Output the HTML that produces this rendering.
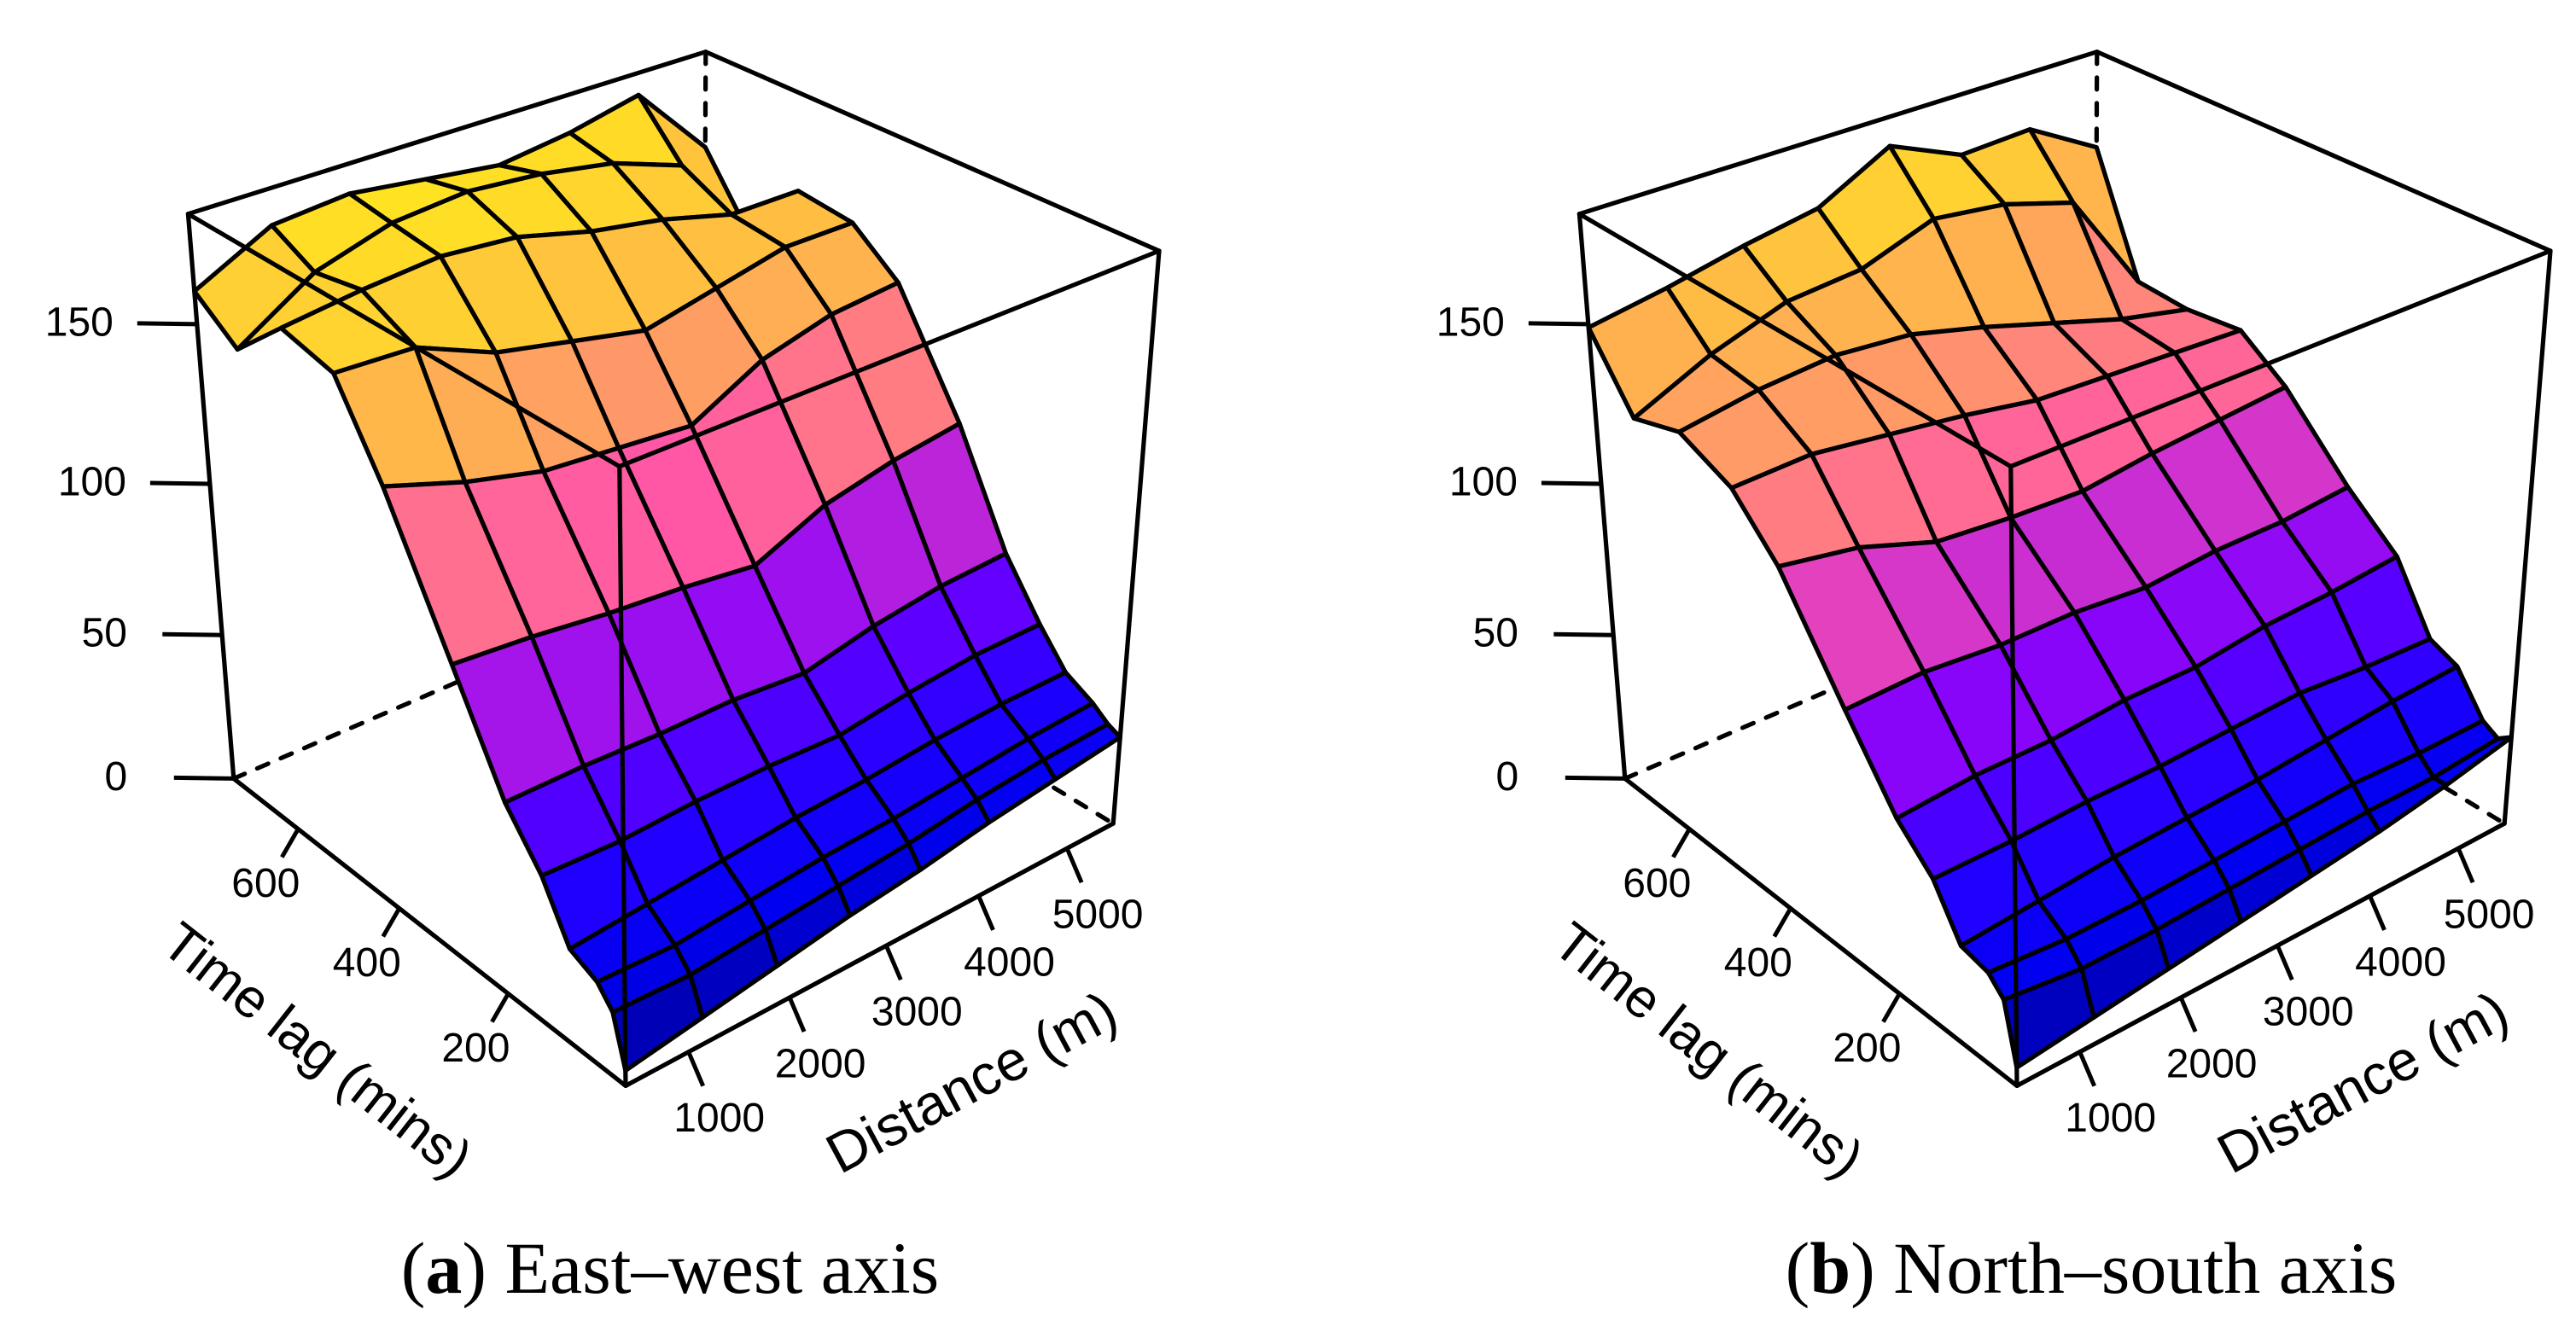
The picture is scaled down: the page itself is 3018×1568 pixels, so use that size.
<!DOCTYPE html>
<html><head><meta charset="utf-8"><title>Space-time variogram surfaces</title>
<style>html,body{margin:0;padding:0;background:#fff}svg{display:block}</style></head>
<body>
<svg id="chart" xmlns="http://www.w3.org/2000/svg" width="3018" height="1568" viewBox="0 0 3018 1568">
<rect x="0" y="0" width="3018" height="1568" fill="#ffffff"/>
<g id="panelA"></g>
<g id="panelB" transform="translate(1630,0)"></g>
<text x="785" y="1515" text-anchor="middle" font-family="Liberation Serif, serif" font-size="86" fill="#000">(<tspan font-weight="bold">a</tspan>) East–west axis</text>
<text x="2450" y="1515" text-anchor="middle" font-family="Liberation Serif, serif" font-size="86" fill="#000">(<tspan font-weight="bold">b</tspan>) North–south axis</text>
</svg>
<script>
// ---- data ----
const distances = [400, 1134, 1868, 2602, 3336, 4070, 4804, 5540];
const timeLags = [0, 20, 45, 90, 135, 195, 280, 390, 470, 565, 655, 735];
const zTicks = [0, 50, 100, 150];
const timeTicks = [200, 400, 600];
const distTicks = [1000, 2000, 3000, 4000, 5000];
const surfaceA = [
  [5, 9, 13, 17, 20, 24, 27, 30],
  [21, 20, 22, 24, 26, 29, 31, 32],
  [27, 26, 28, 30, 31, 33, 35, 36],
  [31, 33, 35, 37, 38, 40, 41, 41],
  [48, 47, 48, 48, 47, 50, 52, 52],
  [63, 63, 62, 62, 60, 65, 68, 69],
  [95, 93, 90, 88, 85, 95, 100, 103],
  [136, 128, 122, 120, 118, 130, 136, 138],
  [161, 160, 150, 145, 140, 145, 150, 150],
  [165, 168, 170, 168, 162, 158, 152, 152],
  [150, 165, 172, 174, 172, 168, 160, 131],
  [160, 172, 174, 171, 168, 171, 176, 152]
];
const surfaceB = [
  [6, 9, 12, 15, 18, 21, 25, 30],
  [25, 22, 22, 23, 24, 25, 25, 27],
  [30, 28, 28, 29, 30, 31, 30, 30],
  [32, 34, 36, 37, 38, 40, 42, 43],
  [47, 47, 48, 48, 49, 50, 48, 47],
  [58, 60, 60, 62, 62, 65, 66, 68],
  [81, 82, 80, 80, 78, 80, 80, 82],
  [112, 108, 100, 98, 97, 100, 102, 104],
  [127, 128, 125, 122, 118, 117, 116, 115],
  [134, 138, 140, 138, 132, 125, 118, 113],
  [129, 140, 148, 150, 158, 155, 148, 114],
  [149, 153, 158, 162, 174, 164, 165, 152]
];
// ---- axis ranges ----
const dMin = 400, dMax = 5540, tMin = 0, tMax = 735, zMax = 183;
const NS = 'http://www.w3.org/2000/svg';

const cornerWorld = [[0,0,0],[0,1,0],[1,0,0],[0,0,1],[0,1,1],[1,0,1],[1,1,1]];
const cornerScreen = [[733,1273],[274,912],[1304,965],[726,545],[220,252],[1358,295],[827,60]];
function fitProjection(world, screen){
  const A=[], b=[];
  for(let k=0;k<world.length;k++){
    const [X,Y,Z]=world[k], [x,y]=screen[k];
    A.push([X,Y,Z,1,0,0,0,0,-x*X,-x*Y,-x*Z]); b.push(x);
    A.push([0,0,0,0,X,Y,Z,1,-y*X,-y*Y,-y*Z]); b.push(y);
  }
  const n=11, M=[];
  for(let i=0;i<n;i++){ M.push(new Array(n+1).fill(0));
    for(let j=0;j<n;j++){ let s=0; for(let r=0;r<A.length;r++) s+=A[r][i]*A[r][j]; M[i][j]=s; }
    let s=0; for(let r=0;r<A.length;r++) s+=A[r][i]*b[r]; M[i][n]=s; }
  for(let c=0;c<n;c++){
    let piv=c; for(let r=c+1;r<n;r++) if(Math.abs(M[r][c])>Math.abs(M[piv][c])) piv=r;
    [M[c],M[piv]]=[M[piv],M[c]];
    for(let r=0;r<n;r++){ if(r===c) continue; const f=M[r][c]/M[c][c];
      for(let j=c;j<=n;j++) M[r][j]-=f*M[c][j]; }
  }
  const p=M.map((row,i)=>row[n]/row[i]);
  return (X,Y,Z)=>{ const w=p[8]*X+p[9]*Y+p[10]*Z+1;
    return [(p[0]*X+p[1]*Y+p[2]*Z+p[3])/w,(p[4]*X+p[5]*Y+p[6]*Z+p[7])/w]; };
}
const proj = fitProjection(cornerWorld, cornerScreen);
const uOf = d => (d-dMin)/(dMax-dMin);
const vOf = t => (t-tMin)/(tMax-tMin);
const wOf = z => z/zMax;

const colorStops = [[0,'#000070'],[14,'#0000b8'],[26,'#0000f0'],[40,'#2000ff'],[55,'#5000ff'],[68,'#8000ff'],[80,'#aa18e6'],[93,'#d838c8'],[102,'#ff55a8'],[113,'#ff6f8f'],[124,'#ff8878'],[138,'#ffaa58'],[152,'#ffc040'],[165,'#ffd52e'],[178,'#ffea1a']];
function hex(c){return [parseInt(c.slice(1,3),16),parseInt(c.slice(3,5),16),parseInt(c.slice(5,7),16)];}
function colorFor(z){
  if(z<=colorStops[0][0]) return colorStops[0][1];
  for(let i=1;i<colorStops.length;i++){
    if(z<=colorStops[i][0]){ const a=hex(colorStops[i-1][1]), b=hex(colorStops[i][1]);
      const f=(z-colorStops[i-1][0])/(colorStops[i][0]-colorStops[i-1][0]);
      return 'rgb('+a.map((v,k)=>Math.round(v+(b[k]-v)*f)).join(',')+')'; }
  }
  return colorStops[colorStops.length-1][1];
}
function mk(tag, attrs, parent){ const e=document.createElementNS(NS,tag);
  for(const k in attrs) e.setAttribute(k,attrs[k]); parent.appendChild(e); return e; }
function line(parent, a, b, dashed, name){
  const p1=proj(...a), p2=proj(...b);
  const l=mk('line',{x1:p1[0].toFixed(1),y1:p1[1].toFixed(1),x2:p2[0].toFixed(1),y2:p2[1].toFixed(1),stroke:'#000','stroke-width':5.2,'stroke-linecap':'round'},parent);
  if(dashed) l.setAttribute('stroke-dasharray','14 16');
  
  
  return l;
}
function text(parent, x, y, str, size, name, rot){
  const t=mk('text',{x:x.toFixed(1),y:y.toFixed(1),'text-anchor':'middle','dominant-baseline':'central','font-family':'Liberation Sans, sans-serif','font-size':size,fill:'#000'},parent);
  if(rot) t.setAttribute('transform','rotate('+rot+' '+x.toFixed(1)+' '+y.toFixed(1)+')');
  t.textContent=str;
  
  
  return t;
}

function drawPanel(g, surface){
  const back = mk('g',{},g);
  
  
  line(back,[0,1,0],[1,1,0],true,'box-edge-hidden');
  line(back,[1,1,0],[1,0,0],true,'box-edge-hidden');
  line(back,[1,1,0],[1,1,1],true,'box-edge-hidden');
  line(back,[0,1,0],[0,1,1],false,'box-edge');
  line(back,[1,0,0],[1,0,1],false,'box-edge');
  line(back,[0,1,1],[1,1,1],false,'box-edge');
  line(back,[1,1,1],[1,0,1],false,'box-edge');
  const surf = mk('g',{'stroke':'#000','stroke-width':5.2,'stroke-linejoin':'round'},g);
  
  
  const cells=[];
  for(let i=0;i<timeLags.length-1;i++) for(let j=0;j<distances.length-1;j++) cells.push([i,j]);
  cells.sort((a,b)=>(b[0]+b[1])-(a[0]+a[1]) || (b[0]-a[0]));
  for(const [i,j] of cells){
    const corners=[[i,j],[i,j+1],[i+1,j+1],[i+1,j]];
    const pts=corners.map(([r,c])=>proj(uOf(distances[c]),vOf(timeLags[r]),wOf(surface[r][c])));
    const zAvg=corners.reduce((s,[r,c])=>s+surface[r][c],0)/4;
    const poly=mk('polygon',{points:pts.map(p=>p[0].toFixed(1)+','+p[1].toFixed(1)).join(' '),fill:colorFor(zAvg)},surf);
    
    
  }
  const front = mk('g',{},g);
  
  
  line(front,[0,0,0],[0,1,0],false,'time-axis-line');
  line(front,[0,0,0],[1,0,0],false,'distance-axis-line');
  line(front,[0,0,0],[0,0,1],false,'box-edge');
  line(front,[0,0,1],[0,1,1],false,'box-edge');
  line(front,[0,0,1],[1,0,1],false,'box-edge');
  for(const z of zTicks){
    const p=proj(0,1,wOf(z));
    const l=mk('line',{x1:p[0].toFixed(1),y1:p[1].toFixed(1),x2:(p[0]-70).toFixed(1),y2:(p[1]-1).toFixed(1),stroke:'#000','stroke-width':5},g);
    
    
    text(g,p[0]-138,p[1]-2,String(z),48,'z-tick-label');
  }
  for(const t of timeTicks){
    const p=proj(0,vOf(t),0);
    const l=mk('line',{x1:p[0].toFixed(1),y1:p[1].toFixed(1),x2:(p[0]-19).toFixed(1),y2:(p[1]+33).toFixed(1),stroke:'#000','stroke-width':5},g);
    
    
    text(g,p[0]-38,p[1]+64,String(t),48,'time-tick-label');
  }
  for(const d of distTicks){
    const p=proj(uOf(d),0,0);
    const l=mk('line',{x1:p[0].toFixed(1),y1:p[1].toFixed(1),x2:(p[0]+17).toFixed(1),y2:(p[1]+40).toFixed(1),stroke:'#000','stroke-width':5},g);
    
    
    text(g,p[0]+36,p[1]+78,String(d),48,'distance-tick-label');
  }
  const tm=proj(0,0.5,0), dm=proj(0.5,0,0);
  const ta=Math.atan2(proj(0,0,0)[1]-proj(0,1,0)[1], proj(0,0,0)[0]-proj(0,1,0)[0])*180/Math.PI;
  const da=Math.atan2(proj(1,0,0)[1]-proj(0,0,0)[1], proj(1,0,0)[0]-proj(0,0,0)[0])*180/Math.PI;
  text(g,tm[0]-116,tm[1]+150,'Time lag (mins)',64,'time-axis-title',ta);
  text(g,dm[0]+103,dm[1]+158,'Distance (m)',66,'distance-axis-title',da);
}
drawPanel(document.getElementById('panelA'), surfaceA);
drawPanel(document.getElementById('panelB'), surfaceB);
</script>
</body></html>
